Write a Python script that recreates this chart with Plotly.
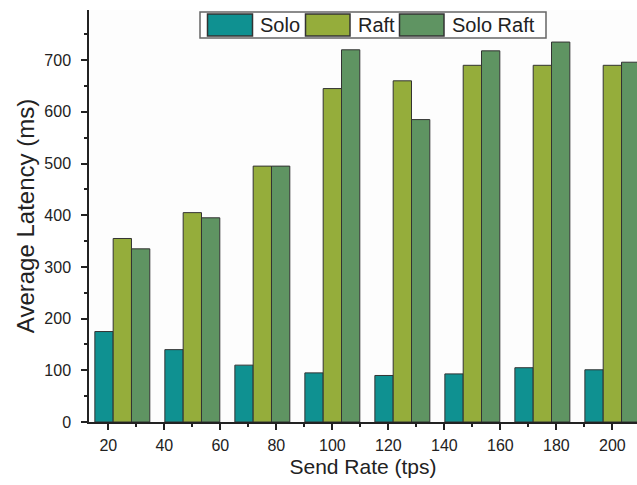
import plotly.graph_objects as go

send_rate = [25, 50, 75, 100, 125, 150, 175, 200]
solo = [175, 140, 110, 95, 90, 93, 105, 101]
raft = [355, 405, 495, 645, 660, 690, 690, 690]
solo_raft = [335, 395, 495, 720, 585, 718, 735, 696]
x_ticks = [20, 40, 60, 80, 100, 120, 140, 160, 180, 200]
y_ticks = [0, 100, 200, 300, 400, 500, 600, 700]

names = ["Solo", "Raft", "Solo Raft"]
colors = ["#0f9191", "#95ad3b", "#5f9462"]
series = [solo, raft, solo_raft]

W, H = 637, 485
ML, MR, MT, MB = 89, 0, 10, 63
PW, PH = W - ML - MR, H - MT - MB

FONT = "Liberation Sans, Arial, sans-serif"

fig = go.Figure()
for n, c, s in zip(names, colors, series):
    fig.add_trace(go.Bar(x=send_rate, y=s, name=n, marker=dict(color=c, line=dict(color="#333333", width=1)),
                         showlegend=False))

fig.update_layout(
    width=W, height=H,
    margin=dict(l=ML, r=MR, t=MT, b=MB),
    barmode="group", bargap=0.215, bargroupgap=0,
    plot_bgcolor="#fdfdfd", paper_bgcolor="#ffffff",
    font=dict(family=FONT, color="#222222"),
)
fig.update_xaxes(
    range=[13.1, 208.8], tickvals=x_ticks, ticktext=[str(v) for v in x_ticks],
    showline=True, linecolor="#222222", linewidth=1.5, showgrid=False, zeroline=False,
    ticks="outside", ticklen=6, tickwidth=1.5, tickcolor="#222222", ticklabelstandoff=2,
    minor=dict(dtick=10, tick0=0, ticks="outside", ticklen=3, tickwidth=1.5, tickcolor="#222222"),
    tickfont=dict(size=16, family=FONT, color="#222222"),
    title=dict(text="Send Rate (tps)", font=dict(size=21, family=FONT, color="#222222"), standoff=6),
)
fig.update_yaxes(
    range=[0, 797], tickvals=y_ticks, ticktext=[str(v) for v in y_ticks],
    showline=True, linecolor="#222222", linewidth=1.5, showgrid=False, zeroline=False,
    ticks="outside", ticklen=6, tickwidth=1.5, tickcolor="#222222", ticklabelstandoff=7,
    minor=dict(dtick=50, tick0=0, ticks="outside", ticklen=3, tickwidth=1.5, tickcolor="#222222"),
    tickfont=dict(size=16, family=FONT, color="#222222"),
    title=dict(text="Average Latency (ms)", font=dict(size=24, family=FONT, color="#222222"), standoff=3),
)

# custom legend (pixel geometry converted to paper coords)
def px(xp):
    return (xp - ML) / PW

def py(yp):
    return (H - MB - yp) / PH

fig.add_shape(type="rect", xref="paper", yref="paper", x0=px(200), x1=px(546), y0=py(38), y1=py(12),
              line=dict(color="#666666", width=1.5), fillcolor="#ffffff", layer="above")
sw = [(207.5, 252.5, 258), (305.5, 350, 356), (399.5, 444, 450)]
for (a, b, t), n, c in zip(sw, names, colors):
    fig.add_shape(type="rect", xref="paper", yref="paper", x0=px(a), x1=px(b), y0=py(36), y1=py(14),
                  line=dict(color="#333333", width=1.5), fillcolor=c, layer="above")
    fig.add_annotation(xref="paper", yref="paper", x=px(t), y=py(25), text=n, showarrow=False,
                       xanchor="left", yanchor="middle", font=dict(size=20, family=FONT, color="#222222"))

fig.write_html("out.html", config={"displayModeBar": False},
               post_script="document.body.style.margin='0';document.body.style.padding='0';")
